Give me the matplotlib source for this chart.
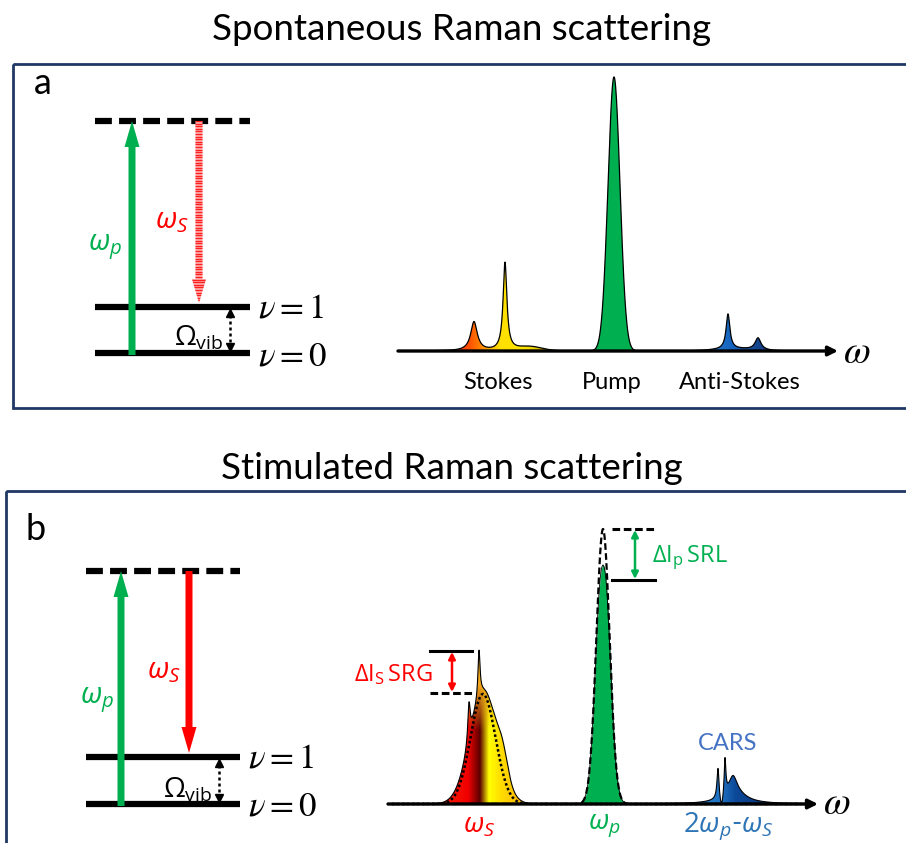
import numpy as np
import matplotlib.pyplot as plt
from matplotlib.colors import LinearSegmentedColormap, to_rgb
from matplotlib.patches import Polygon, FancyArrow, Rectangle

plt.rcParams['font.family'] = ['Lato', 'DejaVu Sans']
plt.rcParams['mathtext.fontset'] = 'custom'
plt.rcParams['mathtext.rm'] = 'Open Sans'
plt.rcParams['mathtext.it'] = 'Open Sans:italic'
plt.rcParams['mathtext.bf'] = 'Open Sans:bold'

GREEN = '#00b050'
RED = '#ff0000'
NAVY = '#1f3864'
CARS_BLUE = '#4472c4'
LABEL_BLUE = '#2e75b6'

# ---------------- data (canvas pixels, y grows downward) ----------------
# energy level diagrams: [virtual level, v=1, v=0]
levels_a = [121, 307, 353]
levels_b = [571, 757, 804]
level_span_a = [95, 250]
level_span_b = [86, 240]
pump_arrow_x = [132, 121]
stokes_arrow_x = [199, 189]
vib_arrow_x = [230, 219]

# spectrum a: baseline and peaks
base_a = 351
stokes_a_pos = [474, 505]
stokes_a_height = [29, 88]
stokes_a_width = [4.0, 2.3]
stokes_a_tail = [530, 4, 12]          # center, height, sigma
pump_a = [614, 274, 6.0]              # center, height, sigma
anti_a_pos = [728, 758]
anti_a_height = [35, 12]
anti_a_width = [2.3, 3.5]
anti_a_bg = [735, 2, 20]

# spectrum b
base_b = 804
stokes_b_env = [483, 110, 12.5]       # dotted envelope (before gain)
stokes_b_main = [484, 112, 14.0]
stokes_b_spike_pos = [479, 469]
stokes_b_spike_height = [48, 38]
stokes_b_spike_width = [1.3, 1.5]
stokes_b_shoulder = [503, 18, 5]
pump_b_env = [603, 275, 6.6]          # dashed envelope (before loss)
pump_b_loss = [603, 36, 3.4]          # depletion removed from the pump
cars_pos = [735, 733, 718, 725]
cars_height = [10, 18, 30, 35]
cars_width = [14, 5, 1.2, 1.0]
cars_dip = [721.5, 1.3]

# gradient colour stops along x
spec_a_colors = [(440, '#ff2a00'), (468, '#ff4d00'), (482, '#ff8c00'), (492, '#ffc000'),
                 (500, '#ffe000'), (525, '#ffe400'), (545, '#c8b000'), (570, '#b0a000'),
                 (590, GREEN), (640, GREEN), (690, '#3a8ad6'), (732, '#1565c0'),
                 (745, '#1b4f9c'), (775, '#103a80')]
stokes_b_colors = [(440, '#ff2000'), (468, '#f00000'), (480, '#5a0000'), (489, '#ffff00'),
                   (500, '#ffe000'), (525, '#ffb000')]
cars_colors = [(680, '#2a8ad8'), (722, '#1f70c0'), (735, '#0d4a9a'), (770, '#0a2f70')]


def lor(x, c, h, w):
    return h * w ** 2 / ((x - c) ** 2 + w ** 2)


def gau(x, c, h, s):
    return h * np.exp(-0.5 * ((x - c) / s) ** 2)


def stops_cmap(stops, x0, x1):
    return LinearSegmentedColormap.from_list(
        'g', [((p - x0) / (x1 - x0), c) for p, c in stops])


def gradient_fill(ax, x, h, base, img, extent, zorder=2):
    verts = np.column_stack([np.r_[x, x[::-1]], np.r_[base - h, np.full_like(x, base)]])
    poly = Polygon(verts, closed=True, facecolor='none', edgecolor='none')
    ax.add_patch(poly)
    im = ax.imshow(img, extent=extent, aspect='auto', interpolation='bilinear',
                   origin='upper', zorder=zorder)
    im.set_clip_path(poly)


def level_diagram(ax, levels, span, px, sx, vx, striped):
    top, v1, v0 = levels
    ax.plot(span, [top, top], color='k', lw=4.5, dashes=(2.7, 1.15), solid_capstyle='butt')
    ax.plot(span, [v1, v1], color='k', lw=4.5, solid_capstyle='butt')
    ax.plot(span, [v0, v0], color='k', lw=4.5, solid_capstyle='butt')
    ax.add_patch(FancyArrow(px, v0 + 2, 0, top - v0 - 2, width=7, head_width=15,
                            head_length=26, length_includes_head=True,
                            color=GREEN, lw=0, zorder=3))
    if striped:
        arr = FancyArrow(sx, top, 0, v1 - 4 - top, width=7, head_width=14, head_length=24,
                         length_includes_head=True, facecolor='#ffb8b8', lw=0, zorder=3)
        ax.add_patch(arr)
        stripes = ax.hlines(np.arange(top, v1, 2.6), sx - 8, sx + 8, color='#ff2020',
                            lw=1.0, zorder=4)
        stripes.set_clip_path(arr)
    else:
        ax.add_patch(FancyArrow(sx, top, 0, v1 - 4 - top, width=7, head_width=15,
                                head_length=26, length_includes_head=True,
                                color=RED, lw=0, zorder=3))
    ax.plot([vx, vx], [v1 + 8, v0 - 8], color='k', lw=1.8, ls=(0, (1.2, 1.2)))
    ax.plot(vx, v1 + 6, marker='^', color='k', ms=6, lw=0)
    ax.plot(vx, v0 - 6, marker='v', color='k', ms=6, lw=0)
    ax.text(vx - 7, v0 - 7, r'$\Omega_\mathrm{vib}$', fontsize=20, ha='right', va='baseline')
    ax.text(span[1] + 8, v1, r'$\nu = 1$', math_fontfamily='stix', fontsize=25, va='center')
    ax.text(span[1] + 8, v0 + 2, r'$\nu = 0$', math_fontfamily='stix', fontsize=25, va='center')


fig = plt.figure(figsize=(9.06, 8.43), dpi=100)
ax = fig.add_axes([0, 0, 1, 1])
ax.set_xlim(0, 906)
ax.set_ylim(843, 0)
ax.axis('off')

# frames and titles
ax.add_patch(Rectangle((13, 64), 905, 344, fill=False, edgecolor=NAVY, lw=2))
ax.add_patch(Rectangle((6, 491), 912, 400, fill=False, edgecolor=NAVY, lw=2))
ax.text(462, 40, 'Spontaneous Raman scattering', fontsize=26.5, ha='center', va='baseline')
ax.text(452, 479, 'Stimulated Raman scattering', fontsize=26.5, ha='center', va='baseline')
ax.text(34, 94, 'a', fontsize=26, va='baseline')
ax.text(26, 540, 'b', fontsize=26, va='baseline')

# ---------------- panel a ----------------
level_diagram(ax, levels_a, level_span_a, pump_arrow_x[0], stokes_arrow_x[0],
              vib_arrow_x[0], striped=True)
ax.text(105, 247, r'$\omega_p$', color=GREEN, fontsize=21, ha='center', va='center')
ax.text(172, 222, r'$\omega_S$', color=RED, fontsize=21, ha='center', va='center')

xa = np.linspace(402, 830, 3000)
ha = np.zeros_like(xa)
for c, h, w in zip(stokes_a_pos, stokes_a_height, stokes_a_width):
    ha += lor(xa, c, h, w)
ha += gau(xa, *stokes_a_tail)
ha += gau(xa, *pump_a)
for c, h, w in zip(anti_a_pos, anti_a_height, anti_a_width):
    ha += lor(xa, c, h, w)
ha += gau(xa, *anti_a_bg)

cm_a = stops_cmap(spec_a_colors, 440, 775)
img_a = cm_a(np.linspace(0, 1, 700))[None, :, :3]
gradient_fill(ax, xa, ha, base_a, img_a, (440, 775, base_a, 70))
ax.plot(xa, base_a - ha, color='k', lw=0.9, zorder=3)
ax.annotate('', xy=(838, base_a), xytext=(398, base_a),
            arrowprops=dict(arrowstyle='-|>', lw=2.4, color='k', mutation_scale=14,
                            shrinkA=0, shrinkB=0), zorder=5)
ax.text(843, 352, r'$\omega$', math_fontfamily='stix', fontsize=28, va='center')
ax.text(498, 389, 'Stokes', fontsize=17, ha='center', va='baseline')
ax.text(612, 389, 'Pump', fontsize=17, ha='center', va='baseline')
ax.text(740, 389, 'Anti-Stokes', fontsize=17, ha='center', va='baseline')

# ---------------- panel b ----------------
level_diagram(ax, levels_b, level_span_b, pump_arrow_x[1], stokes_arrow_x[1],
              vib_arrow_x[1], striped=False)
ax.text(97, 700, r'$\omega_p$', color=GREEN, fontsize=21, ha='center', va='center')
ax.text(164, 672, r'$\omega_S$', color=RED, fontsize=21, ha='center', va='center')

xb = np.linspace(392, 812, 3000)

# Stokes (with gain)
hs = gau(xb, *stokes_b_main)
for c, h, w in zip(stokes_b_spike_pos, stokes_b_spike_height, stokes_b_spike_width):
    hs += lor(xb, c, h, w)
hs += gau(xb, *stokes_b_shoulder)
hs_env = gau(xb, *stokes_b_env)
x0, x1 = 440, 525
cm_s = stops_cmap(stokes_b_colors, x0, x1)
row = np.array(cm_s(np.linspace(0, 1, 300)))[:, :3]
yy = np.linspace(640, base_b, 200)
t = np.clip((730 - yy) / 45, 0, 1)[:, None, None]
img_s = row[None, :, :] * (1 - t) + np.array(to_rgb('#f2a81c'))[None, None, :] * t
gradient_fill(ax, xb, hs, base_b, img_s, (x0, x1, base_b, 640))
ax.plot(xb, base_b - hs, color='k', lw=0.8, zorder=3)
ax.plot(xb, base_b - hs_env, color='k', lw=1.8, ls=(0, (1, 1)), zorder=4)

# pump (with loss)
hp_env = gau(xb, *pump_b_env)
hp = hp_env - gau(xb, *pump_b_loss)
ax.fill_between(xb, base_b, base_b - hp, color=GREEN, lw=0, zorder=2)
ax.plot(xb, base_b - hp, color='k', lw=0.6, zorder=3)
ax.plot(xb, base_b - hp_env, color='k', lw=1.6, ls=(0, (3, 1.5)), zorder=4)

# CARS
hc = np.zeros_like(xb)
for c, h, w in zip(cars_pos, cars_height, cars_width):
    hc += lor(xb, c, h, w)
hc *= 1 - 0.92 * np.exp(-0.5 * ((xb - cars_dip[0]) / cars_dip[1]) ** 2)
cm_c = stops_cmap(cars_colors, 680, 770)
img_c = cm_c(np.linspace(0, 1, 300))[None, :, :3]
gradient_fill(ax, xb, hc, base_b, img_c, (680, 770, base_b, 740))
ax.plot(xb, base_b - hc, color='k', lw=0.8, zorder=3)

ax.annotate('', xy=(818, base_b), xytext=(388, base_b),
            arrowprops=dict(arrowstyle='-|>', lw=2.4, color='k', mutation_scale=14,
                            shrinkA=0, shrinkB=0), zorder=5)
ax.text(823, 803, r'$\omega$', math_fontfamily='stix', fontsize=28, va='center')

# SRG / SRL markers
ax.plot([430, 472], [651, 651], color='k', lw=2.2)
ax.plot([430, 472], [693, 693], color='k', lw=2.2, dashes=(2.5, 1.2))
ax.annotate('', xy=(452, 652), xytext=(452, 692),
            arrowprops=dict(arrowstyle='<|-|>', lw=1.8, color=RED, mutation_scale=10,
                            shrinkA=0, shrinkB=0))
ax.text(433, 675, r'$\Delta\mathrm{I}_\mathrm{S}\,\mathrm{SRG}$', color=RED, fontsize=17,
        ha='right', va='center')
ax.plot([612, 655], [529, 529], color='k', lw=2.2, dashes=(2.5, 1.2))
ax.plot([612, 655], [580, 580], color='k', lw=2.2)
ax.annotate('', xy=(635, 530), xytext=(635, 579),
            arrowprops=dict(arrowstyle='<|-|>', lw=1.8, color=GREEN, mutation_scale=10,
                            shrinkA=0, shrinkB=0))
ax.text(652, 558, r'$\Delta\mathrm{I}_\mathrm{p}\,\mathrm{SRL}$', color=GREEN, fontsize=17,
        ha='left', va='center')

ax.text(728, 743, 'CARS', color=CARS_BLUE, fontsize=17, ha='center', va='center')
ax.text(479, 826, r'$\omega_S$', color=RED, fontsize=20, ha='center', va='center')
ax.text(604, 826, r'$\omega_p$', color=GREEN, fontsize=20, ha='center', va='center')
ax.text(728, 826, r'$2\omega_p$-$\omega_S$', color=LABEL_BLUE, fontsize=20,
        ha='center', va='center')

ax.set_xlim(0, 906)
ax.set_ylim(843, 0)
fig.savefig('out.png', dpi=100)
